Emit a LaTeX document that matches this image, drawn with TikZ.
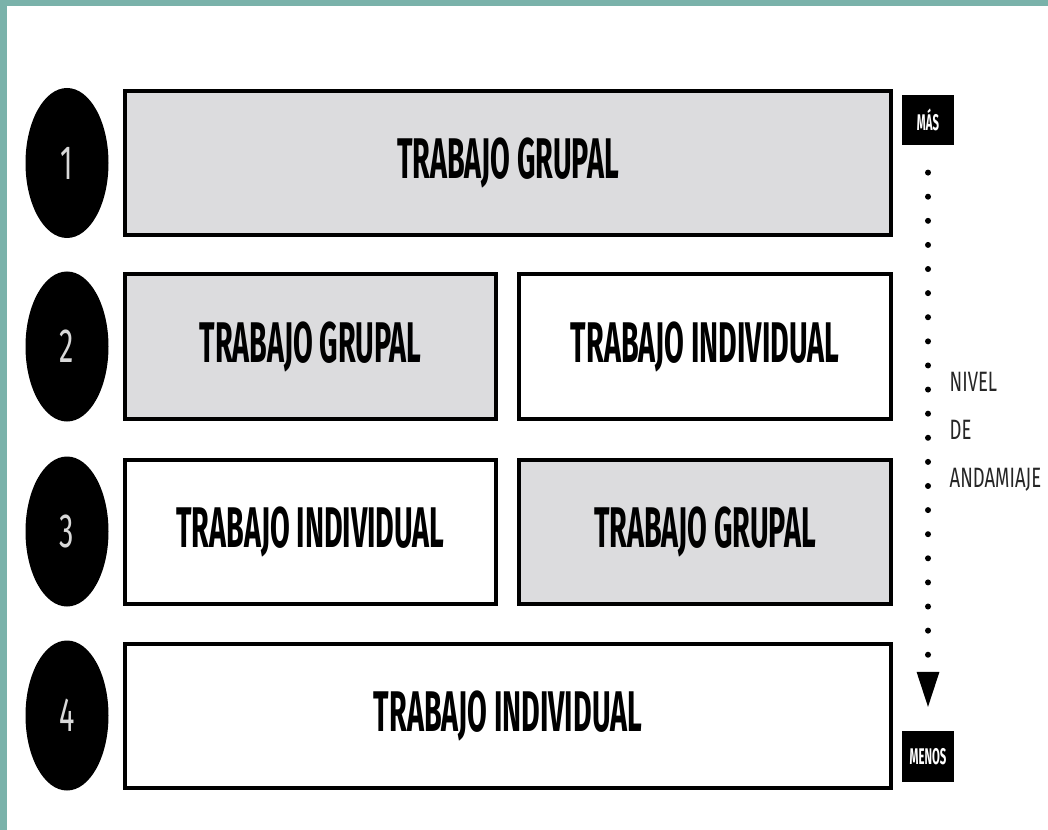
\documentclass[tikz,border=0pt]{standalone}
\usepackage{fontspec}
\usepackage{tikz}
\usetikzlibrary{arrows.meta, shapes.geometric}

\newfontfamily\boxfont[FakeStretch=0.5]{Fira Sans}
\newfontfamily\sidefont[FakeStretch=0.66]{Fira Sans}
\newfontfamily\digitfont[FakeStretch=0.6]{Fira Sans}
\definecolor{frameteal}{RGB}{122,178,170}
\definecolor{boxgray}{RGB}{220,220,222}

\begin{document}
\begin{tikzpicture}[x=0.75pt, y=-0.75pt, >=Stealth,
  stage/.style={ellipse, fill=black, minimum width=62.25pt, minimum height=112.5pt, inner sep=0pt,
    text=white!85!black, font=\digitfont\fontsize{36}{36}\selectfont},
  work/.style={draw=black, line width=3pt, minimum height=108pt, inner sep=0pt,
    font=\boxfont\bfseries\fontsize{43}{43}\selectfont},
  grupal/.style={work, fill=boxgray},
  indiv/.style={work, fill=white},
  tag/.style={fill=black, text=white, minimum width=39pt, minimum height=38pt, inner sep=0pt,
    font=\boxfont\bfseries\fontsize{17}{17}\selectfont}]
  \useasboundingbox (0,0) rectangle (1048,830);
  \fill[white] (0,0) rectangle (1048,830);
  \fill[frameteal] (0,0) rectangle (1048,6);
  \fill[frameteal] (0,0) rectangle (7,830);

  % stages
  \node[stage] (n1) at (67,163) {1};
  \node[stage] (n2) at (67,346.5) {2};
  \node[stage] (n3) at (67,531.5) {3};
  \node[stage] (n4) at (67,715.5) {4};

  % rows of work
  \node[grupal, minimum width=574.5pt] (r1) at (508,163) {TRABAJO GRUPAL};
  \node[grupal, minimum width=278.25pt] (r2a) at (310.5,346.5) {TRABAJO GRUPAL};
  \node[indiv, minimum width=279pt] (r2b) at (705,346.5) {TRABAJO INDIVIDUAL};
  \node[indiv, minimum width=278.25pt] (r3a) at (310.5,531.5) {TRABAJO INDIVIDUAL};
  \node[grupal, minimum width=279pt] (r3b) at (705,531.5) {TRABAJO GRUPAL};
  \node[indiv, minimum width=574.5pt] (r4) at (508,715.5) {TRABAJO INDIVIDUAL};

  % scale of support
  \node[tag] (mas) at (928,120) {MÁS};
  \node[tag] (menos) at (928,756.5) {MENOS};
  \draw[line width=4.5pt, line cap=round, dash pattern=on 0pt off 18.08pt,
    -{Triangle[width=15.75pt, length=27pt]}, shorten <=20.25pt, shorten >=17.25pt] (mas) -- (menos);
  \node[anchor=west, align=left, text=black!85, font=\sidefont\fontsize{21}{36}\selectfont]
    (nivel) at (945,432) {NIVEL\\DE\\ANDAMIAJE};
\end{tikzpicture}
\end{document}
